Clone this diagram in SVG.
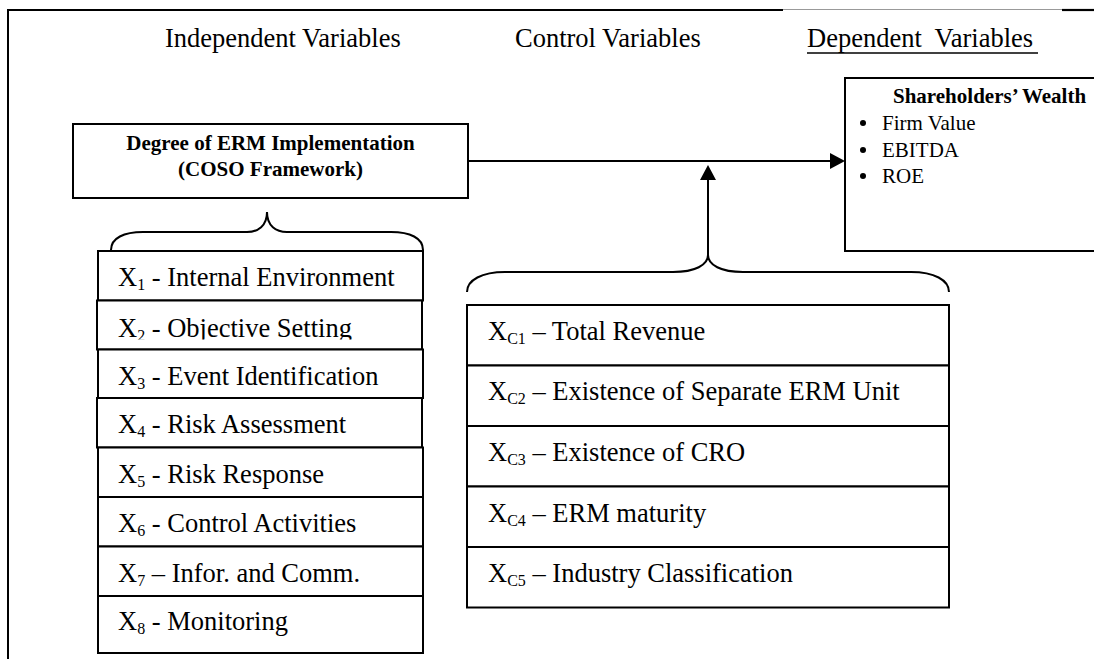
<svg xmlns="http://www.w3.org/2000/svg" width="1094" height="659" viewBox="0 0 1094 659">
<style>
text{font-family:"Liberation Serif","Times New Roman",serif;fill:#000}
.t{font-size:26.5px}
.b{font-size:21px;font-weight:bold}
.s{font-size:21px}
.box{fill:#fff;stroke:#000;stroke-width:2}
.ln{fill:none;stroke:#000;stroke-width:2}
.sub{font-size:16px}
</style>
<defs>
<marker id="arr" viewBox="0 0 15 16" refX="2" refY="8" markerWidth="15" markerHeight="16" orient="auto" markerUnits="userSpaceOnUse">
<path d="M0,0 L15,8 L0,16 z" fill="#000"/>
</marker>
<clipPath id="clip2"><rect x="90" y="300" width="340" height="39.5"/></clipPath>
</defs>
<rect width="1094" height="659" fill="#fff"/>
<g id="frame">
<line x1="7" y1="10" x2="783" y2="10" stroke="#000" stroke-width="2.2"/>
<line x1="783" y1="9.5" x2="1062" y2="9.5" stroke="#999" stroke-width="1"/>
<line x1="1062" y1="10" x2="1094" y2="10" stroke="#000" stroke-width="2.2"/>
<line x1="8" y1="9" x2="8" y2="659" stroke="#000" stroke-width="2"/>
</g>
<g id="headers">
<text class="t" x="165" y="47">Independent Variables</text>
<text class="t" x="515" y="47">Control Variables</text>
<text class="t" x="807" y="47" xml:space="preserve">Dependent  Variables</text>
<line x1="807" y1="53" x2="1038" y2="53" stroke="#000" stroke-width="1.4"/>
</g>
<g id="degree">
<rect class="box" x="73" y="124" width="395" height="74"/>
<text class="b" x="270.5" y="150" text-anchor="middle">Degree of ERM Implementation</text>
<text class="b" x="270.5" y="176" text-anchor="middle">(COSO Framework)</text>
</g>
<g id="wealth">
<rect class="box" x="845" y="78" width="260" height="173"/>
<text class="b" x="893" y="103">Shareholders’ Wealth</text>
<circle cx="863" cy="123" r="3"/>
<text class="s" x="882" y="130">Firm Value</text>
<circle cx="863" cy="150" r="3"/>
<text class="s" x="882" y="157">EBITDA</text>
<circle cx="863" cy="176" r="3"/>
<text class="s" x="882" y="183">ROE</text>
</g>
<g id="independent-list">
<rect class="box" x="98" y="251" width="325" height="49.5"/>
<text class="t" x="118" y="286">X<tspan class="sub" dy="4">1</tspan><tspan dy="-4"> - Internal Environment</tspan></text>
<rect class="box" x="97" y="300.5" width="325" height="49"/>
<text class="t" x="118" y="337" clip-path="url(#clip2)">X<tspan class="sub" dy="4">2</tspan><tspan dy="-4"> - Objective Setting</tspan></text>
<rect class="box" x="98" y="349.5" width="325" height="48.5"/>
<text class="t" x="118" y="385">X<tspan class="sub" dy="4">3</tspan><tspan dy="-4"> - Event Identification</tspan></text>
<rect class="box" x="97" y="398" width="325" height="49.5"/>
<text class="t" x="118" y="433">X<tspan class="sub" dy="4">4</tspan><tspan dy="-4"> - Risk Assessment</tspan></text>
<rect class="box" x="98" y="447.5" width="325" height="49.5"/>
<text class="t" x="118" y="483">X<tspan class="sub" dy="4">5</tspan><tspan dy="-4"> - Risk Response</tspan></text>
<rect class="box" x="98" y="497" width="325" height="49.5"/>
<text class="t" x="118" y="532">X<tspan class="sub" dy="4">6</tspan><tspan dy="-4"> - Control Activities</tspan></text>
<rect class="box" x="98" y="546.5" width="325" height="49.5"/>
<text class="t" x="118" y="582">X<tspan class="sub" dy="4">7</tspan><tspan dy="-4"> – Infor. and Comm.</tspan></text>
<rect class="box" x="98" y="596" width="325" height="57"/>
<text class="t" x="118" y="630">X<tspan class="sub" dy="4">8</tspan><tspan dy="-4"> - Monitoring</tspan></text>
</g>
<g id="control-list">
<rect class="box" x="467" y="305" width="482" height="60.5"/>
<text class="t" x="488" y="340">X<tspan class="sub" dy="4">C1</tspan><tspan dy="-4"> – Total Revenue</tspan></text>
<rect class="box" x="467" y="365.5" width="482" height="60.5"/>
<text class="t" x="488" y="400">X<tspan class="sub" dy="4">C2</tspan><tspan dy="-4"> – Existence of Separate ERM Unit</tspan></text>
<rect class="box" x="467" y="426" width="482" height="60.5"/>
<text class="t" x="488" y="461">X<tspan class="sub" dy="4">C3</tspan><tspan dy="-4"> – Existence of CRO</tspan></text>
<rect class="box" x="467" y="486.5" width="482" height="60.5"/>
<text class="t" x="488" y="522">X<tspan class="sub" dy="4">C4</tspan><tspan dy="-4"> – ERM maturity</tspan></text>
<rect class="box" x="467" y="547" width="482" height="60.5"/>
<text class="t" x="488" y="582">X<tspan class="sub" dy="4">C5</tspan><tspan dy="-4"> – Industry Classification</tspan></text>
</g>
<g id="connectors">
<path class="ln" d="M111,250 C111,238 124,232 143,232 L247,232 C258,232 267,226 267,212 C267,226 276,232 287,232 L391,232 C410,232 423,238 423,250"/>
<path class="ln" d="M467,292 C467,280 482,272 505,272 L673,272 C695,272 708,265 708,255 C708,265 721,272 743,272 L911,272 C934,272 949,280 949,292"/>
<line class="ln" x1="468" y1="161" x2="832" y2="161" marker-end="url(#arr)"/>
<line class="ln" x1="708" y1="255" x2="708" y2="178" marker-end="url(#arr)"/>
</g>
</svg>
